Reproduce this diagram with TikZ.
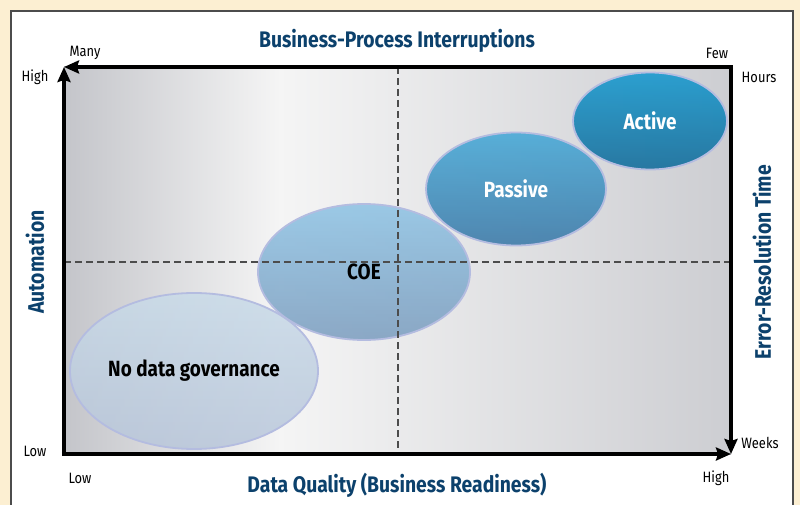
\documentclass[tikz,border=0pt]{standalone}
\usepackage{fontspec}
\setmainfont{Fira Sans}[FakeStretch=0.86]
\usetikzlibrary{shapes.geometric,arrows.meta}
\definecolor{cream}{HTML}{FCEFD2}
\definecolor{navy}{HTML}{0C416C}
\definecolor{rim}{HTML}{B4BCE0}
\definecolor{plotgray}{HTML}{C4C5CA}

\begin{document}
\begin{tikzpicture}[x=1pt, y=-1pt,
    axis/.style={line width=4.5pt, -{Stealth[length=15pt,width=13pt,inset=2pt]}},
    guide/.style={draw=black!70, line width=1.1pt, dash pattern=on 7pt off 4pt},
    tick/.style={font=\fontsize{15}{17}\selectfont},
    title/.style={font=\bfseries\fontsize{22.5}{24}\selectfont, text=navy},
    blob/.style={ellipse, draw=rim, line width=1.8pt, inner sep=0pt, fill opacity=0.85, text opacity=1, font=\bfseries\fontsize{22}{24}\selectfont}
]
\useasboundingbox (0,0) rectangle (800,505);
\fill[cream] (0,0) rectangle (800,505);
\draw[black!70, line width=1.5pt, fill=white] (11,11) rectangle (793,520);

% corners of the plot area
\coordinate (tl) at (64,67);
\coordinate (tr) at (731,67);
\coordinate (bl) at (64,454);
\coordinate (br) at (731,454);

% grey backdrop, lightest left of centre
\shade[left color=plotgray, right color=white!96!black] (64,67) rectangle (280,454);
\shade[left color=white!96!black, right color=plotgray!85] (280,67) rectangle (731,454);

% quadrant guides
\coordinate (vtop) at (398,67);
\coordinate (vbot) at (398,454);
\coordinate (hl) at (64,262);
\coordinate (hr) at (731,262);

% maturity stages
\node[blob, minimum width=248pt, minimum height=156pt, top color={rgb,255:red,200;green,218;blue,232}, bottom color={rgb,255:red,184;green,198;blue,218}] (nogov) at (194,371) {No data governance};
\node[blob, minimum width=212pt, minimum height=136pt, top color={rgb,255:red,140;green,194;blue,228}, bottom color={rgb,255:red,122;green,156;blue,190}] (coe) at (364,272) {COE};
\node[blob, minimum width=180pt, minimum height=113pt, top color={rgb,255:red,64;green,166;blue,214}, bottom color={rgb,255:red,54;green,118;blue,166}, text=white] (passive) at (516,189) {Passive};
\node[blob, minimum width=154pt, minimum height=97pt, top color={rgb,255:red,14;green,150;blue,206}, bottom color={rgb,255:red,10;green,104;blue,152}, text=white] (active) at (650,121) {Active};

\draw[guide] (vtop) -- (vbot);
\draw[guide] (hl) -- (hr);

% axes
\draw[axis] ([yshift=2.2pt]bl) -- (tl);
\draw[axis] ([xshift=2.2pt]tr) -- (tl);
\draw[axis] ([yshift=-2.2pt]tr) -- (br);
\draw[axis] ([xshift=-2.2pt]bl) -- (br);

% axis labels
\node[title] (top) at (397,41) {Business-Process Interruptions};
\node[title] (bottom) at (397,485) {Data Quality (Business Readiness)};
\node[title, rotate=90] (left) at (35,262) {Automation};
\node[title, rotate=90] (right) at (762,262) {Error-Resolution Time};

\node[tick] (many) at (85,53) {Many};
\node[tick] (few) at (717,53) {Few};
\node[tick] (high) at (35,77) {High};
\node[tick] (low) at (35,451) {Low};
\node[tick] (xlow) at (80,478) {Low};
\node[tick] (xhigh) at (716,478) {High};
\node[tick] (hours) at (759,77) {Hours};
\node[tick] (weeks) at (760,443) {Weeks};
\end{tikzpicture}
\end{document}
